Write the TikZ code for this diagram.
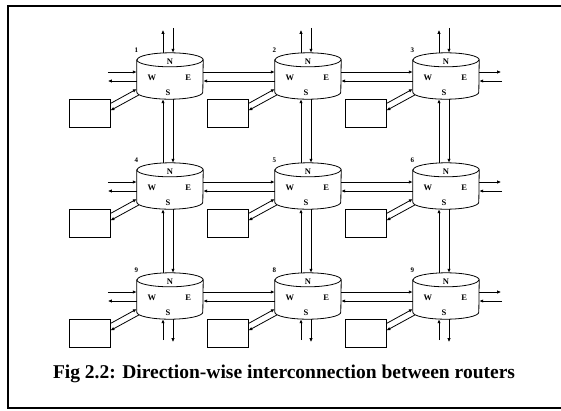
\documentclass[tikz,border=0pt]{standalone}
\usepackage{fontspec}
\setmainfont{Liberation Serif}
\usetikzlibrary{calc,arrows.meta}
\begin{document}
\begin{tikzpicture}[x=1pt,y=-1pt,
  link/.style={line width=0.8pt,-{Latex[length=4pt,width=3.4pt]}},
  routerbox/.style={minimum width=66pt,minimum height=46pt,inner sep=0pt},
  cyl/.style={line width=0.8pt},
  pebox/.style={draw,line width=0.8pt,minimum width=41pt,minimum height=28pt,inner sep=0pt},
  dirlab/.style={font=\bfseries\fontsize{8.5}{8.5}\selectfont,inner sep=0pt},
  idlab/.style={font=\bfseries\fontsize{7}{7}\selectfont,inner sep=0pt}]
\useasboundingbox (0,0) rectangle (561,410);
\clip (0,0) rectangle (561,410);
% outer frame
\draw[line width=2pt] (8,6) rectangle (620,408);

% routers (cylinders) with their processing-element boxes
\foreach \rw/\cy in {1/60,2/170,3/280}{
  \foreach \cl/\cx in {1/170,2/308,3/446}{
    \node[routerbox] (r\rw\cl) at (\cx,\cy+16) {};
    \filldraw[cyl,fill=white] ($(r\rw\cl.north west)+(0,7)$) -- ($(r\rw\cl.south west)+(0,-7)$)
      arc[start angle=180,end angle=360,x radius=33pt,y radius=7pt]
      -- ($(r\rw\cl.north east)+(0,7)$)
      arc[start angle=0,end angle=180,x radius=33pt,y radius=7pt] -- cycle;
    \draw[cyl] ($(r\rw\cl.north west)+(0,7)$)
      arc[start angle=180,end angle=360,x radius=33pt,y radius=7pt];
    \node[dirlab] at ($(r\rw\cl.north)+(0,9)$) {N};
    \node[dirlab] at ($(r\rw\cl.west)+(15,2)$) {W};
    \node[dirlab] at ($(r\rw\cl.east)+(-15,2)$) {E};
    \node[dirlab] at ($(r\rw\cl.south)+(-2,-6)$) {S};
    \node[pebox] (pe\rw\cl) at (\cx-80.5,\cy+53.5) {};
    \draw[link] ($(pe\rw\cl.east)+(0,-10)$) -- ($(r\rw\cl.west)+(0,13)$);
    \draw[link] ($(r\rw\cl.west)+(2,19)$) -- ($(pe\rw\cl.east)+(0,-3)$);
  }
}
% router numbers
\foreach \rw/\a/\b/\c in {1/1/2/3,2/4/5/6,3/9/8/9}{
  \node[idlab] at ($(r\rw1.north west)+(-0.5,-2.5)$) {\a};
  \node[idlab] at ($(r\rw2.north west)+(-0.5,-2.5)$) {\b};
  \node[idlab] at ($(r\rw3.north west)+(-0.5,-2.5)$) {\c};
}

% west and east edge ports
\foreach \rw in {1,2,3}{
  \draw[link] ($(r\rw1.west)+(-29,-4)$) -- ($(r\rw1.west)+(0,-4)$);
  \draw[link] ($(r\rw1.west)+(0,5)$) -- ($(r\rw1.west)+(-29,5)$);
  \draw[link] ($(r\rw3.east)+(0,-4)$) -- ($(r\rw3.east)+(22,-4)$);
  \draw[link] ($(r\rw3.east)+(23,5)$) -- ($(r\rw3.east)+(0,5)$);
}
% east-west links
\foreach \rw in {1,2,3}{
  \foreach \a/\b in {1/2,2/3}{
    \draw[link] ($(r\rw\a.east)+(0,-4)$) -- ($(r\rw\b.west)+(0,-4)$);
    \draw[link] ($(r\rw\b.west)+(0,5)$) -- ($(r\rw\a.east)+(0,5)$);
  }
}
% north-south links and edge ports
\foreach \cl in {1,2,3}{
  \draw[link] ($(r1\cl.north)+(-7,0)$) -- ($(r1\cl.north)+(-7,-23)$);
  \draw[link] ($(r1\cl.north)+(3,-25)$) -- ($(r1\cl.north)+(3,0)$);
  \foreach \a/\b in {1/2,2/3}{
    \draw[link] ($(r\b\cl.north)+(-7,0)$) -- ($(r\a\cl.south)+(-7,0)$);
    \draw[link] ($(r\a\cl.south)+(3,0)$) -- ($(r\b\cl.north)+(3,0)$);
  }
  \draw[link] ($(r3\cl.south)+(-7,21)$) -- ($(r3\cl.south)+(-7,0)$);
  \draw[link] ($(r3\cl.south)+(3,0)$) -- ($(r3\cl.south)+(3,23)$);
}

\node[font=\bfseries\fontsize{19.5}{19.5}\selectfont,inner sep=0pt] (cap) at (284,374)
  {Fig 2.2: Direction-wise interconnection between routers};
\end{tikzpicture}
\end{document}
